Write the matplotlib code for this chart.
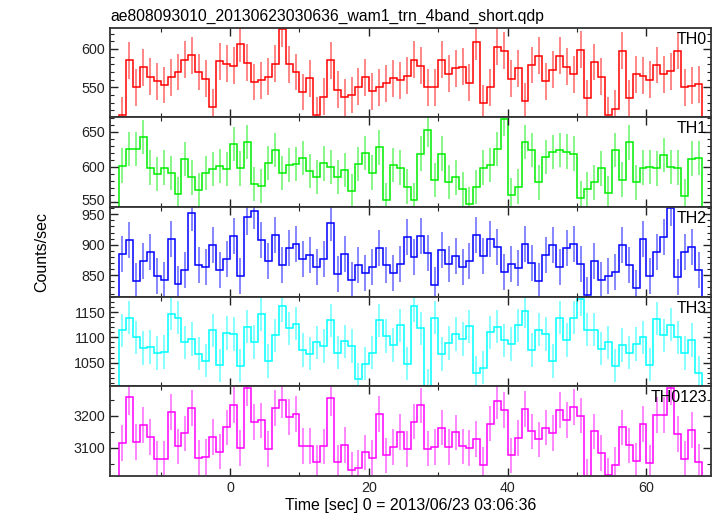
import numpy as np
import matplotlib
matplotlib.use("Agg")
import matplotlib.pyplot as plt
from matplotlib.ticker import MultipleLocator
import matplotlib.transforms as mtrans

plt.rcParams['font.family'] = ['Liberation Sans', 'DejaVu Sans']

title = "ae808093010_20130623030636_wam1_trn_4band_short.qdp"
xlabel = "Time [sec] 0 = 2013/06/23 03:06:36"
ylabel = "Counts/sec"
t_start = -16.0
bin_width = 1.0

th0 = [514, 585, 550, 576, 564, 558, 553, 563, 570, 586, 592, 570, 561, 524, 584, 581,
       578, 607, 582, 557, 559, 564, 581, 626, 580, 570, 544, 562, 514, 538, 585, 547,
       537, 540, 551, 563, 545, 550, 555, 562, 559, 565, 586, 578, 550, 550, 586, 568,
       575, 577, 556, 609, 529, 550, 603, 598, 561, 575, 532, 579, 591, 558, 573, 591,
       577, 567, 599, 536, 583, 564, 514, 522, 598, 536, 567, 565, 560, 579, 567, 571,
       598, 550, 552, 554]
th1 = [602, 626, 626, 643, 599, 590, 599, 591, 561, 611, 585, 567, 591, 597, 601, 597,
       633, 598, 636, 576, 573, 606, 624, 591, 603, 604, 613, 594, 586, 605, 600, 586,
       596, 565, 604, 620, 592, 628, 553, 603, 599, 572, 553, 619, 653, 581, 619, 579,
       585, 569, 547, 571, 599, 603, 626, 668, 560, 572, 636, 624, 578, 614, 621, 624,
       622, 619, 555, 569, 578, 598, 563, 624, 582, 635, 578, 599, 600, 598, 617, 600,
       599, 559, 612, 613]
th2 = [885, 908, 841, 873, 888, 849, 843, 909, 835, 859, 952, 866, 864, 899, 859, 877,
       914, 849, 946, 956, 908, 873, 916, 867, 895, 902, 877, 883, 864, 877, 935, 852,
       885, 842, 866, 854, 863, 895, 867, 854, 869, 912, 880, 915, 887, 834, 891, 868,
       881, 863, 874, 916, 882, 910, 896, 856, 869, 862, 902, 870, 840, 883, 900, 864,
       894, 901, 869, 818, 874, 843, 849, 856, 899, 866, 829, 909, 848, 888, 912, 960,
       847, 888, 897, 858]
th3 = [1114, 1139, 1100, 1079, 1081, 1069, 1071, 1147, 1139, 1090, 1097, 1068, 1054, 1114, 1045, 1109,
       1107, 1044, 1121, 1091, 1146, 1053, 1104, 1163, 1118, 1127, 1075, 1068, 1090, 1083, 1134, 1070,
       1092, 1083, 1017, 1048, 1070, 1134, 1103, 1085, 1124, 1048, 1163, 1118, 1004, 1139, 1067, 1089,
       1107, 1097, 1122, 1030, 1040, 1110, 1121, 1094, 1087, 1124, 1152, 1075, 1115, 1107, 1053, 1139,
       1095, 1139, 1176, 1115, 1115, 1078, 1090, 1044, 1085, 1070, 1087, 1100, 1046, 1137, 1104, 1125,
       1100, 1069, 1095, 1030]
th0123 = [3114, 3259, 3117, 3172, 3133, 3064, 3064, 3212, 3104, 3145, 3224, 3069, 3070, 3134, 3088, 3164,
          3235, 3099, 3287, 3180, 3186, 3096, 3225, 3250, 3196, 3205, 3106, 3106, 3054, 3104, 3256, 3054,
          3108, 3030, 3037, 3085, 3069, 3205, 3076, 3102, 3150, 3096, 3182, 3233, 3097, 3102, 3163, 3102,
          3148, 3104, 3099, 3128, 3047, 3176, 3247, 3219, 3076, 3131, 3221, 3151, 3126, 3163, 3147, 3218,
          3188, 3227, 3201, 3010, 3151, 3083, 3013, 3045, 3164, 3107, 3058, 3175, 3052, 3202, 3202, 3289,
          3144, 3065, 3155, 3055]

series = [th0, th1, th2, th3, th0123]
names = ["TH0", "TH1", "TH2", "TH3", "TH0123"]
errors = [24, 24.5, 29.5, 33, 56]
colors = ["#ff0000", "#00ee00", "#0000ff", "#00ffff", "#ff00ff"]
ylims = [(511, 628), (543, 671), (815, 962), (1003, 1181), (3011, 3293)]
ymajor = [50, 50, 50, 50, 100]
yminor = [10, 10, 10, 10, 50]
xlim = (-17.3, 69.3)

fig = plt.figure(figsize=(7.17, 5.16), dpi=100)
left, right = 110 / 717, 711 / 717
top, bottom = 1 - 27.5 / 516, 1 - 476 / 516
h = (top - bottom) / 5
axes = []
for i in range(5):
    ax = fig.add_axes([left, top - (i + 1) * h, right - left, h])
    axes.append(ax)
    vals = np.array(series[i], dtype=float)
    n = len(vals)
    edges = t_start + bin_width * np.arange(n + 1)
    centers = 0.5 * (edges[:-1] + edges[1:])
    ax.errorbar(centers, vals, yerr=errors[i], fmt='none', ecolor=colors[i],
                elinewidth=1.1, alpha=0.6, capsize=0)
    ax.stairs(vals, edges, color=colors[i], linewidth=1.1)
    ax.set_xlim(*xlim)
    ax.set_ylim(*ylims[i])
    ax.xaxis.set_major_locator(MultipleLocator(20))
    ax.xaxis.set_minor_locator(MultipleLocator(10))
    ax.yaxis.set_major_locator(MultipleLocator(ymajor[i]))
    ax.yaxis.set_minor_locator(MultipleLocator(yminor[i]))
    ax.tick_params(which='both', direction='in', top=True, right=True,
                   labelsize=10.3, colors='#222222')
    ax.tick_params(which='major', length=6, width=1)
    ax.tick_params(which='minor', length=3, width=0.8)
    for s in ax.spines.values():
        s.set_linewidth(1.3)
        s.set_color('#333333')
    if i < 4:
        ax.tick_params(labelbottom=False)
    ax.text(0.993, 0.87, names[i], transform=ax.transAxes, ha='right', va='center',
            fontsize=11.5, color='black')

# nudge the lowest TH1 label up slightly so it clears the TH2 label below
fig.canvas.draw()
for lab in axes[1].get_yticklabels():
    if lab.get_text() in ("550",):
        lab.set_transform(lab.get_transform() + mtrans.ScaledTranslation(0, 2 / 72, fig.dpi_scale_trans))

axes[0].set_title(title, loc='left', fontsize=11.3, pad=5)
axes[4].set_xlabel(xlabel, fontsize=11.5, labelpad=2)
fig.text(42 / 717, 0.5 * (top + bottom), ylabel, rotation=90, ha='center', va='center',
         fontsize=11.5)

fig.savefig("out.png", dpi=100)
